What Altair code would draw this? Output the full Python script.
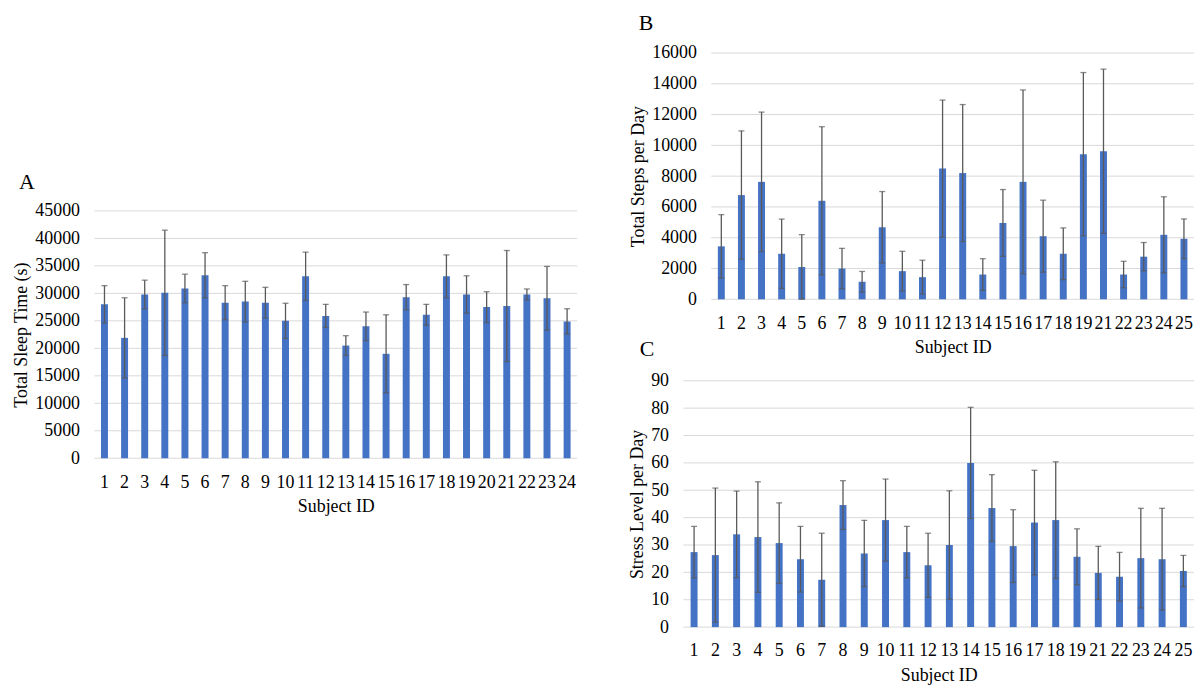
import altair as alt
import pandas as pd

# ---------------- data ----------------
ids_a = [str(i) for i in range(1, 25)]
sleep_mean = [28000, 21900, 29800, 30100, 30900, 33300, 28300, 28500, 28300, 25000,
              33100, 25900, 20500, 24000, 19000, 29300, 26100, 33100, 29800, 27500,
              27700, 29800, 29100, 24900]
sleep_err = [3400, 7300, 2600, 11400, 2600, 4100, 3100, 3700, 2800, 3200,
             4400, 2100, 1800, 2600, 7100, 2300, 1900, 3900, 3400, 2800,
             10100, 1000, 5800, 2300]

ids_bc = [str(i) for i in list(range(1, 20)) + list(range(21, 26))]
steps_mean = [3440, 6770, 7630, 2960, 2100, 6400, 2000, 1140, 4680, 1830,
              1440, 8490, 8200, 1610, 4960, 7630, 4100, 2960, 9430, 9620,
              1610, 2770, 4190, 3930]
steps_err = [2060, 4170, 4530, 2250, 2100, 4810, 1310, 670, 2320, 1290,
             1100, 4450, 4450, 1030, 2170, 5970, 2340, 1680, 5300, 5330,
             860, 920, 2470, 1290]

stress_mean = [27.4, 26.3, 33.9, 32.9, 30.7, 24.8, 17.3, 44.6, 26.9, 39.1,
               27.4, 22.6, 30.0, 60.0, 43.5, 29.6, 38.2, 39.1, 25.7, 19.8,
               18.4, 25.2, 24.8, 20.5]
stress_err = [9.4, 24.5, 15.8, 20.2, 14.7, 12.0, 17.0, 8.9, 12.1, 15.0,
              9.4, 11.7, 19.8, 20.3, 12.2, 13.3, 19.1, 21.3, 10.2, 9.7,
              8.9, 18.2, 18.6, 5.7]

sleep_ticks = [0, 5000, 10000, 15000, 20000, 25000, 30000, 35000, 40000, 45000]
steps_ticks = [0, 2000, 4000, 6000, 8000, 10000, 12000, 14000, 16000]
stress_ticks = [0, 10, 20, 30, 40, 50, 60, 70, 80, 90]

FONT = "Liberation Serif"
BAR = "#4472C4"
ERR = "#595959"
GRID = "#d9d9d9"


def label_layer(text, x, y):
    return alt.Chart(pd.DataFrame({"t": [text]})).mark_text(
        font=FONT, fontSize=22, align="left", baseline="alphabetic",
        color="#000000"
    ).encode(text="t:N", x=alt.value(x), y=alt.value(y))


def panel(ids, means, errs, ticks, width, height, xrange, yrange, ytitle,
          yoffset, labels):
    df = pd.DataFrame({"id": ids, "mean": means, "err": errs})
    df["lo"] = df["mean"] - df["err"]
    df["hi"] = df["mean"] + df["err"]
    ymax = ticks[-1]
    x = alt.X("id:N", sort=ids, title="Subject ID",
              scale=alt.Scale(paddingInner=0, paddingOuter=0, range=xrange),
              axis=alt.Axis(labelAngle=0, ticks=False, domain=False,
                            labelOverlap=False, labelPadding=15, titlePadding=7,
                            labelBound=False))
    yscale = alt.Scale(domain=[0, ymax], nice=False, zero=True, range=yrange)
    yaxis = alt.Axis(values=ticks, format="d", domain=False, ticks=False,
                     grid=False, labelOverlap=False, labelPadding=15,
                     titlePadding=4, offset=yoffset)
    grid = alt.Chart(pd.DataFrame({"v": ticks})).mark_rule(
        color=GRID, strokeWidth=1).encode(
        y=alt.Y("v:Q", scale=yscale, title=ytitle, axis=yaxis),
        x=alt.value(xrange[0]), x2=alt.value(xrange[1]))
    base = alt.Chart(df).encode(x=x)
    bars = base.mark_bar(size=7, color=BAR).encode(
        y=alt.Y("mean:Q", scale=yscale, title=ytitle, axis=yaxis))
    stem = base.mark_rule(color=ERR, strokeWidth=1.3).encode(
        y=alt.Y("lo:Q", scale=yscale, title=ytitle, axis=yaxis), y2="hi:Q")
    cap_hi = base.mark_tick(color=ERR, size=6, thickness=1.3).encode(
        y=alt.Y("hi:Q", scale=yscale, title=ytitle, axis=yaxis))
    cap_lo = base.mark_tick(color=ERR, size=6, thickness=1.3).encode(
        y=alt.Y("lo:Q", scale=yscale, title=ytitle, axis=yaxis))
    layers = [grid, bars, stem, cap_hi, cap_lo] + labels
    return alt.layer(*layers).properties(width=width, height=height)


# Panel A: plot box starts level with panel B's top; its own axes sit lower
chart_a = panel(ids_a, sleep_mean, sleep_err, sleep_ticks, 486, 408,
                [0, 486], [408, 159], "Total Sleep Time (s)", 0,
                [label_layer("A", -76, 137)])
# Panel B: shares the left edge of panel C, its content starts 28px further right
chart_b = panel(ids_bc, steps_mean, steps_err, steps_ticks, 514, 248,
                [28, 514], [248, 0], "Total Steps per Day", -28,
                [label_layer("B", -45, -23)])
chart_c = panel(ids_bc, stress_mean, stress_err, stress_ticks, 514, 248,
                [0, 514], [248, 0], "Stress Level per Day", 0,
                [label_layer("C", -44, -25)])

right = alt.vconcat(chart_b, chart_c, spacing=82, bounds="flush")

chart = alt.hconcat(chart_a, right, spacing=107, bounds="flush").properties(
    padding={"left": 5, "top": 2, "right": 0, "bottom": 0}
).configure_view(stroke=None).configure_axis(
    labelFont=FONT, titleFont=FONT, labelFontSize=18, titleFontSize=18,
    titleFontWeight="normal", labelColor="#000000", titleColor="#000000"
)

chart.save("out.html", embed_options={"renderer": "svg", "actions": False})
